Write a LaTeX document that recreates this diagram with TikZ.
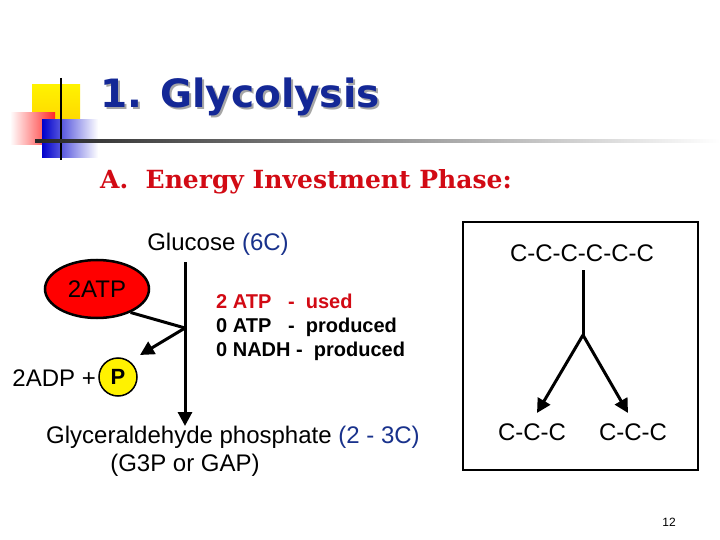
\documentclass[tikz,border=0pt]{standalone}
\usepackage{fontspec}
\setmainfont{Liberation Sans}
\newfontfamily\headf{DejaVu Serif}
\newfontfamily\titf{DejaVu Sans}
\usetikzlibrary{arrows.meta,shapes.geometric}
\definecolor{tblue}{RGB}{20,40,150}
\definecolor{hred}{RGB}{210,10,20}
\definecolor{cblue}{RGB}{25,50,140}
\begin{document}
\begin{tikzpicture}[x=1pt,y=-1pt,
  arr/.style={line width=3pt,-{Triangle[length=14pt,width=14pt]}},
  lbl/.style={inner sep=0pt,font=\fontsize{24}{26}\selectfont}]
\useasboundingbox (0,0) rectangle (720,540);
\fill[white] (0,0) rectangle (720,540);
% logo
\shade[top color=yellow!90!orange, bottom color=yellow!70!orange] (32,85) rectangle (80,120);
\shade[left color=white, right color=red!85] (10,113) rectangle (55,145);
\shade[left color=blue!80!black, right color=white] (42,120) rectangle (98,158);
\draw[line width=1.5pt] (61,78) -- (61,160);
\shade[left color=black!85, right color=white] (35,140) rectangle (720,142.5);
% title
\node[anchor=west,inner sep=0pt,text=black!35,font=\titf\bfseries\fontsize{39}{41}\selectfont] (tsh) at (102,99) {1. Glycolysis};
\node[anchor=west,inner sep=0pt,text=tblue,font=\titf\bfseries\fontsize{39}{41}\selectfont] (title) at (100,97) {1. Glycolysis};
\node[anchor=west,inner sep=0pt,text=hred,font=\headf\bfseries\fontsize{25}{27}\selectfont] (head) at (100,182) {A.\ \ Energy Investment Phase:};
% left diagram
\node[lbl] (glu) at (218,244) {Glucose \textcolor{cblue}{(6C)}};
\coordinate (top) at (185,262);
\coordinate (mid) at (185,328);
\node[lbl,anchor=north] (gap) at (233,426) {Glyceraldehyde phosphate \textcolor{cblue}{(2 - 3C)}};
\node[lbl,anchor=north] (gap2) at (185,454) {(G3P or GAP)};
\draw[arr] (top) -- (gap.north -| top);
\node[draw,line width=2.5pt,fill=red,ellipse,minimum width=104pt,minimum height=58pt,inner sep=0pt,lbl] (atp) at (97,289) {2ATP};
\node[draw,line width=1.5pt,fill=yellow,circle,minimum size=38pt,inner sep=0pt,lbl,font=\bfseries\fontsize{22}{24}\selectfont] (p) at (118,377) {P};
\node[lbl,anchor=east] (adp) at (96,378) {2ADP +};
\draw[line width=3pt] (atp.-35) -- (mid);
\draw[arr] (mid) -- (140,355);
\node[anchor=north west,inner sep=0pt,font=\bfseries\fontsize{20}{24}\selectfont,align=left] (stats) at (216,294)
{\textcolor{hred}{2 ATP\ \ \ -\ \ used}\\0 ATP\ \ \ -\ \ produced\\0 NADH -\ \ produced};
% right box
\draw[line width=1.2pt] (463,222) rectangle (698,470);
\node[lbl] (c6) at (582,253) {C-C-C-C-C-C};
\coordinate (fork) at (583,335);
\node[lbl] (c3a) at (532,432) {C-C-C};
\node[lbl] (c3b) at (633,432) {C-C-C};
\draw[line width=3pt] (583,270) -- (fork);
\draw[arr] (fork) -- (537,413);
\draw[arr] (fork) -- (628,413);
\node[inner sep=0pt,font=\fontsize{12}{14}\selectfont] (pg) at (669,522) {12};
\end{tikzpicture}
\end{document}
